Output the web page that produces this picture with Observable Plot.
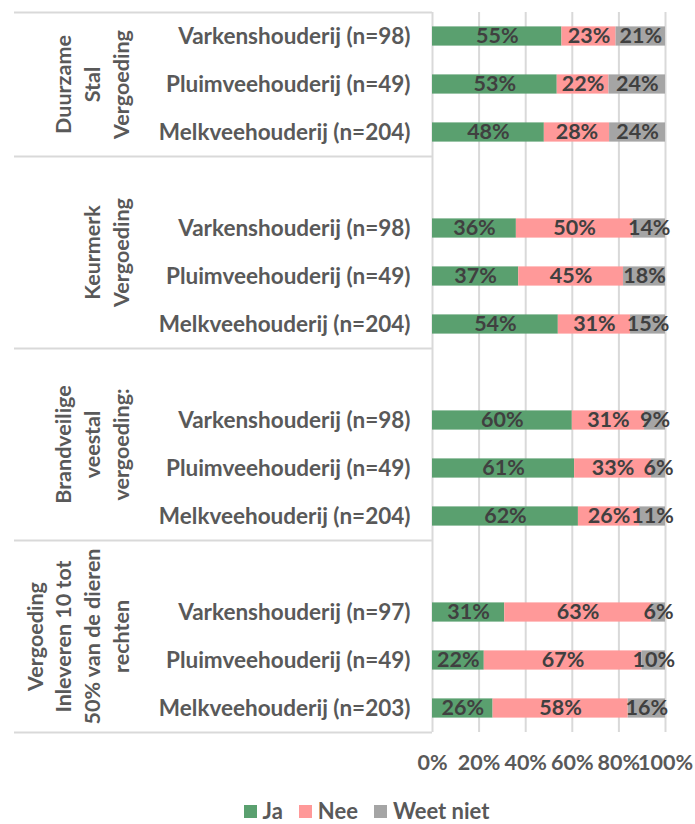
<!DOCTYPE html>
<html>
<head>
<meta charset="utf-8">
<script src="https://cdn.jsdelivr.net/npm/d3@7"></script>
<script src="https://cdn.jsdelivr.net/npm/@observablehq/plot@0.6"></script>
<style>
  body { margin: 0; background: #fff; font-family: Lato, "Open Sans", sans-serif; overflow: hidden; }
  #legend { display: flex; justify-content: center; align-items: center; margin-top: 15px; padding-left: 38px;
            font-weight: bold; font-size: 22px; color: #595959; line-height: 22px; height: 22px; }
  #legend .item { display: flex; align-items: center; margin: 0 8px; }
  #legend .sw { width: 13px; height: 13px; margin-right: 6px; }
</style>
</head>
<body>
<div id="chart"></div>
<div id="legend"></div>
<script>
// ---- data ----
const groupLabels = [
  "Duurzame\nStal\nVergoeding",
  "Keurmerk\nVergoeding",
  "Brandveilige\nveestal\nvergoeding:",
  "Vergoeding\nInleveren 10 tot\n50% van de dieren\nrechten"
];
const categories = [
  ["Varkenshouderij (n=98)", "Pluimveehouderij (n=49)", "Melkveehouderij (n=204)"],
  ["Varkenshouderij (n=98)", "Pluimveehouderij (n=49)", "Melkveehouderij (n=204)"],
  ["Varkenshouderij (n=98)", "Pluimveehouderij (n=49)", "Melkveehouderij (n=204)"],
  ["Varkenshouderij (n=97)", "Pluimveehouderij (n=49)", "Melkveehouderij (n=203)"]
];
const answers = ["Ja", "Nee", "Weet niet"];
const colors = ["#5AA06F", "#FF9999", "#A5A5A5"];
const ja       = [55, 53, 48, 36, 37, 54, 60, 61, 62, 31, 22, 26];
const nee      = [23, 22, 28, 50, 45, 31, 31, 33, 26, 63, 67, 58];
const weetNiet = [21, 24, 24, 14, 18, 15,  9,  6, 11,  6, 10, 16];
const xTicks = [0, 0.2, 0.4, 0.6, 0.8, 1];

// ---- build table ----
const series = [ja, nee, weetNiet];
const rows = [];      // {row, label}
const data = [];      // {row, answer, value}
categories.forEach((cats, g) => {
  cats.forEach((c, i) => {
    const row = 4 * g + i;
    const k = g * 3 + i;
    rows.push({row, label: c});
    answers.forEach((a, j) => data.push({row, answer: a, value: series[j][k]}));
  });
});
const rowLabel = new Map(rows.map(d => [d.row, d.label]));
const groups = groupLabels.map((label, g) => ({
  label,
  center: g === 0 ? 1 : 4 * g + 0.5,
  top: g === 0 ? -0.5 : 4 * g - 1.5
}));
const boundaries = [...groups.map(d => d.top), 14.5];

const width = 695, marginLeft = 432, marginRight = 30;
const tableLeftX = -(marginLeft - 14) / (width - marginLeft - marginRight);

const chart = Plot.plot({
  width,
  height: 785,
  marginTop: 12,
  marginBottom: 53,
  marginLeft,
  marginRight,
  style: {fontFamily: "Lato, 'Open Sans', sans-serif", background: "#fff", overflow: "visible"},
  x: {domain: [0, 1]},
  y: {domain: [-0.5, 14.5], reverse: true},
  color: {domain: answers, range: colors},
  marks: [
    Plot.ruleX(xTicks, {x: d => d, y1: -0.5, y2: 14.5, stroke: "#D9D9D9", strokeWidth: 2}),
    Plot.ruleY(boundaries, {y: d => d, x1: tableLeftX, x2: 0, stroke: "#D9D9D9", strokeWidth: 2}),
    Plot.rectX(data, Plot.stackX({
      offset: "normalize",
      x: "value",
      y1: d => d.row - 0.2,
      y2: d => d.row + 0.2,
      fill: "answer"
    })),
    Plot.text(data, Plot.stackX({
      offset: "normalize",
      x: "value",
      y: "row",
      z: "answer",
      text: d => d.value + "%",
      fill: "#404040",
      fontSize: 21.5,
      fontWeight: "bold"
    })),
    Plot.axisY(rows.map(d => d.row), {
      tickSize: 0, tickPadding: 22, tickFormat: d => rowLabel.get(d),
      fontSize: 22.5, fontWeight: "bold", fill: "#595959", label: null
    }),
    Plot.axisX(xTicks, {
      tickSize: 0, tickPadding: 22, tickFormat: d => Math.round(d * 100) + "%",
      fontSize: 21.5, fontWeight: "bold", fill: "#595959", label: null
    }),
    Plot.text(groups, {
      y: "center", text: "label", frameAnchor: "left", dx: -304,
      rotate: -90, lineAnchor: "bottom", lineHeight: 1.33,
      fontSize: 21.5, fontWeight: "bold", fill: "#595959", textAnchor: "middle"
    })
  ]
});
document.getElementById("chart").appendChild(chart);

const legend = document.getElementById("legend");
answers.forEach((a, i) => {
  const item = document.createElement("div");
  item.className = "item";
  const sw = document.createElement("span");
  sw.className = "sw";
  sw.style.background = colors[i];
  const t = document.createElement("span");
  t.textContent = a;
  item.appendChild(sw); item.appendChild(t);
  legend.appendChild(item);
});
</script>
</body>
</html>
